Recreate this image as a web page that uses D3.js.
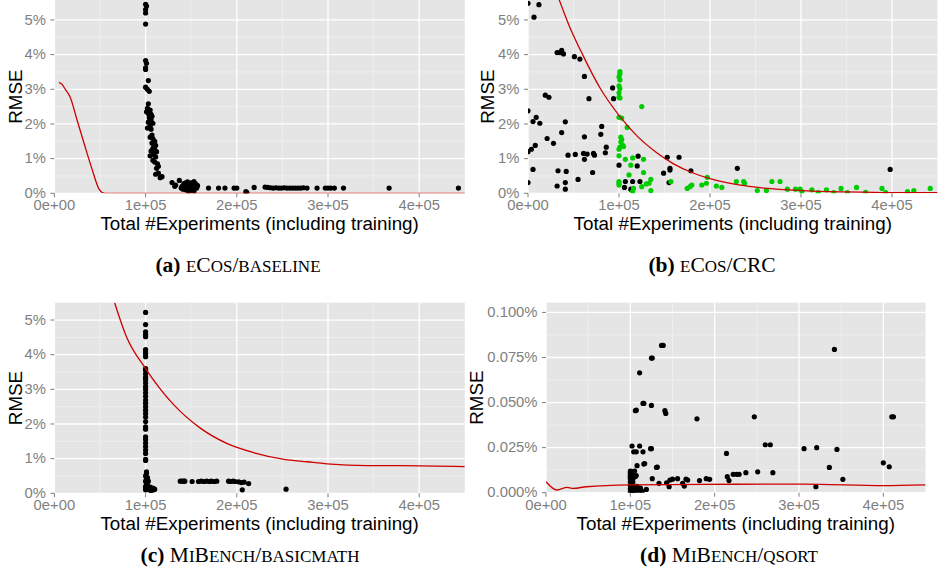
<!DOCTYPE html>
<html>
<head>
<meta charset="utf-8">
<script src="https://cdn.jsdelivr.net/npm/d3@7"></script>
<style>
body { margin: 0; background: #fff; }
.tick-label { font-family: "Liberation Sans", Arial, sans-serif; font-size: 14.8px; fill: #7f7f7f; }
.axis-title { font-family: "Liberation Sans", Arial, sans-serif; font-size: 18.8px; fill: #000; }
.caption { font-family: "Liberation Serif", "Times New Roman", serif; font-size: 21.5px; fill: #000; }
</style>
</head>
<body>
<script>
var width = 942, height = 572;

// x values are in units of 1e5 experiments, y values in percent RMSE
var xTicks = [0, 1, 2, 3, 4],
    xTickLabels = ["0e+00", "1e+05", "2e+05", "3e+05", "4e+05"],
    xMinor = [0.5, 1.5, 2.5, 3.5];

var pctTicks = [0, 1, 2, 3, 4, 5],
    pctLabels = ["0%", "1%", "2%", "3%", "4%", "5%"],
    pctMinor = [0.5, 1.5, 2.5, 3.5, 4.5];

var smallTicks = [0, 0.025, 0.05, 0.075, 0.1],
    smallLabels = ["0.000%", "0.025%", "0.050%", "0.075%", "0.100%"],
    smallMinor = [0.0125, 0.0375, 0.0625, 0.0875];

// (a) eCos/baseline
var aPoints = [[1.00,5.45],[1.01,5.40],[1.00,5.30],[1.00,5.20],[1.00,4.88],[1.00,3.83],[1.01,3.75],[1.00,3.62],[1.00,3.57],
  [1.03,3.25],[1.00,3.06],[1.02,3.00],[1.04,2.94],[1.03,2.58],[1.02,2.45],[1.05,2.40],[1.01,2.35],[1.03,2.30],[1.06,2.28],
  [1.07,2.22],[1.04,2.18],[1.06,2.12],[1.03,2.05],[1.08,2.02],[1.05,1.95],[1.02,1.88],[1.06,1.85],[1.07,1.68],[1.05,1.62],
  [1.08,1.58],[1.10,1.50],[1.07,1.45],[1.09,1.40],[1.11,1.38],[1.08,1.30],[1.10,1.25],[1.06,1.22],[1.12,1.20],[1.09,1.12],
  [1.05,1.08],[1.11,1.05],[1.08,0.95],[1.10,0.90],[1.13,0.85],[1.14,0.78],[1.12,0.72],[1.11,0.55],[1.14,0.58],[1.18,0.48],
  [1.16,0.45],[1.29,0.31],[1.33,0.24],[1.37,0.37],[1.32,0.20],
  [1.40,0.20],[1.41,0.12],[1.42,0.28],[1.43,0.18],[1.44,0.10],[1.45,0.25],[1.46,0.33],[1.47,0.15],[1.48,0.22],[1.49,0.08],
  [1.50,0.30],[1.51,0.18],[1.52,0.12],[1.53,0.34],[1.54,0.20],[1.55,0.27],[1.56,0.15],[1.44,0.30],[1.47,0.05],[1.50,0.12],
  [1.53,0.06],[1.46,0.20],[1.39,0.15],[1.57,0.22],
  [1.69,0.15],[1.80,0.15],[1.87,0.15],[1.97,0.15],[2.00,0.15],[2.10,0.05],[2.10,0.00],[2.11,0.02],[2.19,0.17],
  [2.31,0.18],[2.34,0.17],[2.37,0.16],[2.40,0.15],[2.43,0.16],[2.46,0.15],[2.49,0.15],[2.52,0.16],[2.55,0.15],
  [2.58,0.15],[2.61,0.15],[2.64,0.15],[2.67,0.15],[2.70,0.15],[2.73,0.16],[2.77,0.15],
  [2.88,0.15],[2.97,0.15],[3.00,0.15],[3.03,0.15],[3.07,0.15],[3.17,0.15],[3.67,0.15],[4.43,0.15]];
var aCurve = [[0.05,3.20],[0.08,3.15],[0.12,3.00],[0.17,2.79],[0.25,2.10],[0.33,1.40],[0.41,0.72],[0.49,0.12],[0.52,0.03],[0.56,0],[4.5,0]];

// (b) eCos/CRC
var bBlack = [[0.00,5.48],[0.066,5.08],[0.12,5.44],[0.00,2.38],[0.00,1.20],[0.00,0.31],[0.037,1.27],[0.055,2.07],[0.08,1.38],
  [0.09,2.19],[0.055,0.69],[0.13,2.02],[0.19,2.83],[0.23,2.77],[0.21,1.58],[0.28,1.44],[0.32,4.06],[0.35,4.06],[0.37,4.12],
  [0.39,4.02],[0.33,0.65],[0.32,0.21],[0.37,1.75],[0.41,2.06],[0.41,0.31],[0.41,0.12],[0.42,0.63],[0.44,1.10],[0.51,3.94],
  [0.52,1.12],[0.57,3.87],[0.55,0.40],[0.62,3.37],[0.62,1.63],[0.61,1.15],[0.62,0.98],[0.65,1.13],[0.67,2.73],[0.71,0.60],
  [0.72,1.15],[0.73,1.10],[0.81,1.93],[0.80,1.70],[0.85,1.17],[0.86,1.33],[0.93,3.04],[0.94,2.73],[1.00,0.81],[1.06,0.17],
  [1.07,0.34],[1.13,0.12],[1.15,0.34],[1.21,1.07],[1.20,0.79],[1.23,0.34],[1.49,0.58],[1.53,1.04],[1.56,0.67],[1.56,0.72],
  [1.55,0.31],[1.66,1.04],[1.79,0.65],[2.30,0.72],[3.98,0.69]];
var bGreen = [[1.01,3.51],[1.01,3.45],[1.00,3.36],[1.01,3.27],[1.00,3.10],[1.01,3.02],[1.00,2.90],[1.00,2.77],[1.01,2.75],
  [1.00,2.19],[1.03,2.17],[1.02,1.62],[1.03,1.55],[1.02,1.48],[1.04,1.39],[1.01,1.33],[1.00,1.27],[1.05,1.35],[1.00,1.08],
  [1.00,0.34],[1.00,0.29],[1.00,0.24],
  [1.25,2.50],[1.09,1.90],[1.07,0.98],[1.15,1.02],[1.13,0.81],[1.11,0.53],[1.27,0.98],[1.27,0.60],[1.35,0.40],[1.33,0.29],
  [1.30,0.27],[1.25,0.19],[1.16,0.14],[1.15,0.05],[1.35,0.08],[1.57,0.34],[1.75,0.14],[1.78,0.19],[1.80,0.24],[1.91,0.24],
  [1.96,0.29],[1.97,0.46],[2.07,0.21],[2.13,0.17],[2.29,0.34],[2.37,0.34],[2.38,0.29],[2.52,0.08],[2.62,0.08],[2.68,0.34],
  [2.77,0.34],[2.85,0.12],[2.94,0.12],[2.99,0.12],[3.01,0.05],[3.12,0.10],[3.19,0.02],[3.28,0.10],[3.36,0.02],[3.44,0.14],
  [3.51,0.02],[3.61,0.17],[3.71,0.03],[3.89,0.14],[3.93,0.02],[4.17,0.05],[4.24,0.08],[4.42,0.14]];
var bCurve = [[0.34,5.60],[0.45,4.85],[0.60,4.00],[0.80,3.00],[1.00,2.25],[1.20,1.65],[1.40,1.20],[1.60,0.85],[1.80,0.60],
  [2.00,0.42],[2.30,0.25],[2.60,0.15],[3.00,0.08],[3.50,0.04],[4.00,0.02],[4.50,0.02]];

// (c) MiBench/basicmath
var cPoints = [[1.00,5.22],[1.00,4.87],[1.00,4.66],[1.00,4.58],[1.00,4.52],[1.00,4.15],[1.00,4.08],[1.00,4.02],[1.00,3.94],
  [1.00,3.60],[1.00,3.55],[1.00,3.45],[1.00,3.35],[1.00,3.28],[1.00,3.18],[1.00,3.08],[1.00,3.00],[1.00,2.90],[1.00,2.80],
  [1.00,2.69],[1.00,2.60],[1.00,2.50],[1.00,2.40],[1.00,2.30],[1.00,2.20],[1.00,2.07],[1.00,1.92],[1.00,1.85],[1.00,1.63],
  [1.00,1.55],[1.00,1.45],[1.00,1.35],[1.00,1.25],[1.00,1.15],[1.00,0.98],[1.00,0.95],[1.01,0.62],[1.01,0.58],[1.00,0.50],
  [1.01,0.42],[1.00,0.35],[1.01,0.28],[1.00,0.20],[1.00,0.15],[1.00,0.10],
  [1.02,0.25],[1.03,0.15],[1.04,0.10],[1.05,0.18],[1.06,0.08],[1.07,0.12],[1.08,0.15],[1.09,0.10],[1.10,0.12],[1.03,0.35],[1.02,0.45],
  [1.38,0.35],[1.40,0.35],[1.42,0.35],[1.43,0.35],[1.51,0.34],[1.58,0.34],[1.61,0.35],[1.64,0.34],[1.67,0.35],[1.70,0.34],
  [1.72,0.35],[1.75,0.34],[1.78,0.35],[1.91,0.35],[1.93,0.34],[1.96,0.35],[1.98,0.34],[2.02,0.33],[2.05,0.31],[2.08,0.32],
  [2.13,0.28],[2.06,0.10],[2.54,0.12]];
var cCurve = [[0.66,5.50],[0.79,4.52],[1.00,3.60],[1.31,2.55],[1.60,1.88],[1.89,1.44],[2.19,1.17],[2.52,0.98],[2.77,0.91],
  [2.99,0.85],[3.43,0.80],[3.80,0.80],[4.50,0.77]];

// (d) MiBench/qsort
var dPoints = [[1.02,0.0259],[1.04,0.0227],[1.07,0.0227],[1.11,0.0259],[1.15,0.0227],[1.06,0.0455],[1.07,0.0458],[1.11,0.0665],
  [1.15,0.0495],[1.16,0.0495],[1.25,0.0747],[1.26,0.0747],[1.25,0.0484],[1.24,0.0244],[1.25,0.0244],[1.16,0.0159],[1.17,0.0162],
  [1.08,0.0150],[1.37,0.0817],[1.39,0.0817],[1.41,0.0455],[1.42,0.0440],[1.31,0.0140],[1.32,0.0142],[1.26,0.0078],[1.34,0.0052],
  [1.19,0.0018],[1.79,0.0410],[1.43,0.0055],[1.46,0.0033],[1.47,0.0070],[1.50,0.0075],[1.56,0.0078],[1.62,0.0052],[1.64,0.0037],
  [1.66,0.0075],[1.68,0.0070],[1.82,0.0067],[1.90,0.0078],[1.94,0.0074],[2.14,0.0218],[2.15,0.0089],[2.17,0.0067],[2.22,0.0102],
  [2.26,0.0102],[2.29,0.0102],[2.37,0.0111],[2.47,0.0421],[2.51,0.0116],[2.60,0.0266],[2.66,0.0266],[2.69,0.0111],[3.06,0.0244],
  [3.21,0.0250],[3.20,0.0033],[3.36,0.0140],[3.42,0.0795],[3.45,0.0240],[3.52,0.0074],[4.00,0.0166],[4.07,0.0144],[4.10,0.0421],
  [4.12,0.0421],
  [1.00,0.0120],[1.00,0.0110],[1.00,0.0100],[1.01,0.0095],[1.00,0.0090],[1.00,0.0080],[1.01,0.0070],[1.00,0.0060],[1.02,0.0050],
  [1.00,0.0040],[1.01,0.0030],[1.00,0.0020],[1.02,0.0010],[1.00,0.0000],[1.03,0.0005],[1.04,0.0020],[1.05,0.0010],[1.06,0.0030],
  [1.04,0.0085],[1.06,0.0090],[1.07,0.0095],[1.05,0.0120],[1.08,0.0035],[1.09,0.0020],[1.10,0.0005],[1.03,0.0115],[1.02,0.0080],
  [1.03,0.0060],[1.12,0.0025],[1.14,0.0008],[1.01,0.0105]];
var dCurve = [[0.00,0.0061],[0.13,0.0015],[0.25,0.0030],[0.32,0.0024],[0.48,0.0033],[1.00,0.0043],[1.87,0.0046],[3.05,0.0048],
  [4.00,0.0039],[4.50,0.0043]];

var svg = d3.select("body").append("svg")
    .attr("width", width)
    .attr("height", height);

// caption written LaTeX small-caps style: lowercase letters become smaller capitals
function addCaption(cx, cy, tag, name) {
  var cap = svg.append("text")
     .attr("class", "caption")
     .attr("x", cx).attr("y", cy)
     .attr("text-anchor", "middle");
  cap.append("tspan").style("font-weight", "bold").text(tag + " ");
  var runs = name.match(/[a-z]+|[^a-z]+/g);
  runs.forEach(function(r) {
    var small = /[a-z]/.test(r);
    cap.append("tspan")
       .style("font-size", small ? "17px" : null)
       .text(r.toUpperCase());
  });
}

function drawPanel(p) {
  var x = d3.scaleLinear().domain([0, 4.5]).range([p.left, p.right]);
  var y = d3.scaleLinear().domain([0, p.ymax]).range([p.bottom, p.top]);
  var g = svg.append("g");

  g.append("rect")
   .attr("x", p.left).attr("y", p.top)
   .attr("width", p.right - p.left).attr("height", p.bottom - p.top)
   .style("fill", "#e5e5e5");

  // minor grid
  g.selectAll(".vminor").data(xMinor).enter().append("line")
   .attr("x1", x).attr("x2", x).attr("y1", p.top).attr("y2", p.bottom)
   .style("stroke", "#f2f2f2").style("stroke-width", 0.7);
  g.selectAll(".hminor").data(p.yMinor).enter().append("line")
   .attr("x1", p.left).attr("x2", p.right).attr("y1", y).attr("y2", y)
   .style("stroke", "#f2f2f2").style("stroke-width", 0.7);
  // major grid
  g.selectAll(".vmajor").data(xTicks).enter().append("line")
   .attr("x1", x).attr("x2", x).attr("y1", p.top).attr("y2", p.bottom)
   .style("stroke", "#fff").style("stroke-width", 1.3);
  g.selectAll(".hmajor").data(p.yTicks).enter().append("line")
   .attr("x1", p.left).attr("x2", p.right).attr("y1", y).attr("y2", y)
   .style("stroke", "#fff").style("stroke-width", 1.3);

  var clipId = "clip" + p.id;
  svg.append("clipPath").attr("id", clipId).append("rect")
     .attr("x", p.left).attr("y", p.top)
     .attr("width", p.right - p.left).attr("height", p.bottom - p.top);

  var inner = g.append("g").attr("clip-path", "url(#" + clipId + ")");

  p.series.forEach(function(s) {
    inner.selectAll(null).data(s.data).enter().append("circle")
      .attr("cx", function(d) { return x(d[0]); })
      .attr("cy", function(d) { return y(d[1]); })
      .attr("r", 2.6)
      .style("fill", s.color);
  });

  var line = d3.line()
               .x(function(d) { return x(d[0]); })
               .y(function(d) { return y(d[1]); })
               .curve(d3.curveMonotoneX);
  inner.append("path")
       .datum(p.curve)
       .attr("d", line)
       .style("fill", "none")
       .style("stroke", "#cd0000")
       .style("stroke-width", 1.3);

  // axis ticks and labels
  g.selectAll(".xt").data(xTicks).enter().append("line")
   .attr("x1", x).attr("x2", x).attr("y1", p.bottom).attr("y2", p.bottom + 4)
   .style("stroke", "#7f7f7f").style("stroke-width", 1);
  g.selectAll(".xl").data(xTicks).enter().append("text")
   .attr("class", "tick-label")
   .attr("x", x).attr("y", p.bottom + 17)
   .attr("text-anchor", "middle")
   .text(function(d, i) { return xTickLabels[i]; });

  g.selectAll(".yt").data(p.yTicks).enter().append("line")
   .attr("x1", p.left - 4).attr("x2", p.left).attr("y1", y).attr("y2", y)
   .style("stroke", "#7f7f7f").style("stroke-width", 1);
  g.selectAll(".yl").data(p.yTicks).enter().append("text")
   .attr("class", "tick-label")
   .attr("x", p.left - 8.5).attr("y", function(d) { return y(d) + 4.6; })
   .attr("text-anchor", "end")
   .text(function(d, i) { return p.yLabels[i]; });

  g.append("text")
   .attr("class", "axis-title")
   .attr("x", (p.left + p.right) / 2).attr("y", p.bottom + 37)
   .attr("text-anchor", "middle")
   .text("Total #Experiments (including training)");

  g.append("text")
   .attr("class", "axis-title")
   .attr("transform", "translate(" + p.titleX + "," + ((p.top + p.bottom) / 2) + ") rotate(-90)")
   .attr("text-anchor", "middle")
   .text("RMSE");

  addCaption(p.capX, p.capY, p.capTag, p.capName);
}

drawPanel({ id: "a", left: 54.4, right: 464.8, top: 0, bottom: 193.3, ymax: 5.575,
  yTicks: pctTicks, yLabels: pctLabels, yMinor: pctMinor,
  series: [{ data: aPoints, color: "#000" }], curve: aCurve, titleX: 22,
  capX: 238, capY: 272, capTag: "(a)", capName: "eCos/baseline" });

drawPanel({ id: "b", left: 528, right: 937.5, top: 0, bottom: 193.3, ymax: 5.575,
  yTicks: pctTicks, yLabels: pctLabels, yMinor: pctMinor,
  series: [{ data: bBlack, color: "#000" }, { data: bGreen, color: "#00cd00" }], curve: bCurve, titleX: 494,
  capX: 712, capY: 272, capTag: "(b)", capName: "eCos/CRC" });

drawPanel({ id: "c", left: 54.4, right: 464.8, top: 302.7, bottom: 493.3, ymax: 5.5,
  yTicks: pctTicks, yLabels: pctLabels, yMinor: pctMinor,
  series: [{ data: cPoints, color: "#000" }], curve: cCurve, titleX: 22,
  capX: 250, capY: 562, capTag: "(c)", capName: "MiBench/basicmath" });

drawPanel({ id: "d", left: 546, right: 925.5, top: 302.7, bottom: 492.7, ymax: 0.1054,
  yTicks: smallTicks, yLabels: smallLabels, yMinor: smallMinor,
  series: [{ data: dPoints, color: "#000" }], curve: dCurve, titleX: 483,
  capX: 729, capY: 562, capTag: "(d)", capName: "MiBench/qsort" });
</script>
</body>
</html>
